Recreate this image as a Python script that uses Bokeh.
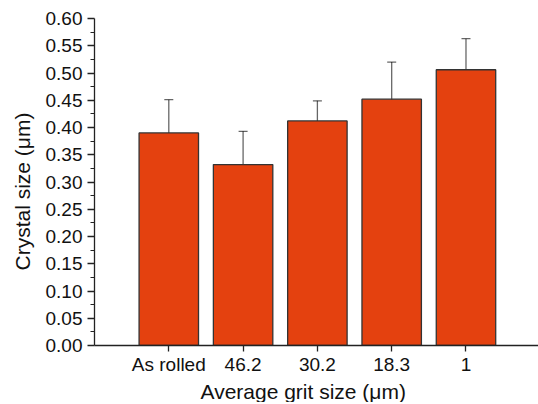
import numpy as np
from bokeh.plotting import figure
from bokeh.models import (ColumnDataSource, Whisker, TeeHead, FixedTicker,
                          NumeralTickFormatter, Range1d, Title)
from bokeh.embed import file_html
from bokeh.resources import INLINE

categories = ["As rolled", "46.2", "30.2", "18.3", "1"]
crystal_size = [0.390, 0.332, 0.412, 0.452, 0.506]
errors = [0.061, 0.061, 0.037, 0.068, 0.057]
y_ticks = [0.00, 0.05, 0.10, 0.15, 0.20, 0.25, 0.30, 0.35, 0.40, 0.45, 0.50, 0.55, 0.60]
y_minor = [0.025, 0.075, 0.125, 0.175, 0.225, 0.275, 0.325, 0.375, 0.425, 0.475, 0.525, 0.575]
x_title = "Average grit size (\u03bcm)"
y_title = "Crystal size (\u03bcm)"

x = np.arange(1, len(categories) + 1)
mean = np.array(crystal_size)
err = np.array(errors)
src = ColumnDataSource(dict(x=x, top=mean, upper=mean + err, lower=mean - err))

FONT = "Liberation Sans"

p = figure(frame_width=444, frame_height=327, output_backend="svg",
           toolbar_location=None, x_range=Range1d(0, 5.976), y_range=Range1d(0, 0.6),
           min_border_left=94, min_border_right=0, min_border_top=18, min_border_bottom=57)
p.outline_line_color = None
p.xgrid.grid_line_color = None
p.ygrid.grid_line_color = None
p.background_fill_color = "white"
p.border_fill_color = "white"

p.vbar(x="x", top="top", width=0.8, bottom=0, source=src,
       fill_color="#E4410F", line_color="#333333", line_width=1.3)

w = Whisker(base="x", upper="upper", lower="lower", source=src,
            line_color="black", line_alpha=0.6, line_width=1.3,
            upper_head=TeeHead(size=9, line_color="black", line_alpha=0.6, line_width=1.3),
            lower_head=TeeHead(size=9, line_color="black", line_alpha=0.6, line_width=1.3))
p.add_layout(w)

xa = p.xaxis[0]
xa.ticker = FixedTicker(ticks=list(x))
xa.major_label_overrides = {int(i): c for i, c in zip(x, categories)}
xa.major_tick_out = 6
xa.major_tick_in = 0
xa.major_label_standoff = 2

ya = p.yaxis[0]
ya.ticker = FixedTicker(ticks=y_ticks, minor_ticks=y_minor)
ya.formatter = NumeralTickFormatter(format="0.00")
ya.major_tick_out = 7
ya.major_tick_in = 0
ya.minor_tick_out = 4
ya.minor_tick_in = 0
ya.major_label_standoff = 5

for ax in (xa, ya):
    ax.axis_line_color = "#222222"
    ax.axis_line_width = 1.3
    ax.major_tick_line_color = "#222222"
    ax.major_tick_line_width = 1.3
    ax.minor_tick_line_color = "#222222" if ax is ya else None
    ax.minor_tick_line_width = 1.2
    ax.major_label_text_font = FONT
    ax.major_label_text_font_size = "19px"
    ax.major_label_text_color = "#111111"

# axis titles as side-panel titles so they can be offset along the axis
p.add_layout(Title(text=x_title, align="left", offset=106, standoff=0,
                   text_font=FONT, text_font_size="21px", text_font_style="normal",
                   text_color="#111111"), "below")
p.add_layout(Title(text=y_title, align="left", offset=75, standoff=16,
                   vertical_align="middle",
                   text_font=FONT, text_font_size="21px", text_font_style="normal",
                   text_color="#111111"), "left")

open("out.html", "w").write(file_html(p, INLINE))
